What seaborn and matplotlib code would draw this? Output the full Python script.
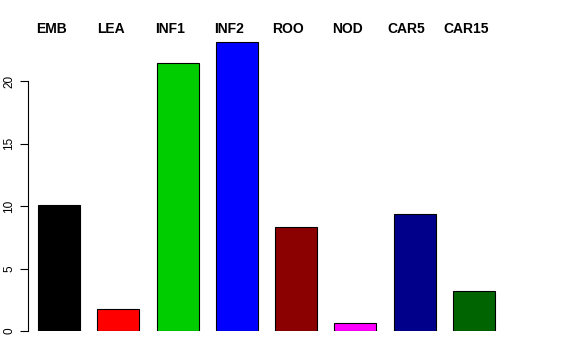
import matplotlib
matplotlib.use("Agg")
import matplotlib.pyplot as plt
import seaborn as sns
import pandas as pd

categories = ["EMB", "LEA", "INF1", "INF2", "ROO", "NOD", "CAR5", "CAR15"]
values = [10.1, 1.77, 21.47, 23.13, 8.3, 0.62, 9.37, 3.24]
colors = ["#000000", "#FF0000", "#00CD00", "#0000FF", "#8B0000", "#FF00FF", "#00008B", "#006400"]
yticks = [0, 5, 10, 15, 20]

sns.set_theme(style="white")
plt.rcParams["font.family"] = ["Liberation Sans", "DejaVu Sans"]

df = pd.DataFrame({"cat": categories, "val": values})

W, H = 576, 360
fig = plt.figure(figsize=(W / 100, H / 100), dpi=100)
left_px, right_px, bottom_px, top_px = 28, 560, 331, 10
ax = fig.add_axes([left_px / W, (H - bottom_px) / H, (right_px - left_px) / W, (bottom_px - top_px) / H])

sns.barplot(data=df, x="cat", y="val", hue="cat", palette=colors, legend=False,
            width=0.71, edgecolor="black", linewidth=0.8, saturation=1, ax=ax)

px_per_x = 59.24
ax.set_xlim(-(59.2 - left_px) / px_per_x, (right_px - 59.2) / px_per_x)
px_per_y = 12.48
ax.set_ylim(0, (bottom_px - top_px) / px_per_y)

for s in ["top", "right", "bottom"]:
    ax.spines[s].set_visible(False)
ax.spines["left"].set_bounds(0, 20)
ax.spines["left"].set_color("black")
ax.spines["left"].set_linewidth(0.8)
ax.set_xticks([])
ax.set_yticks(yticks)
ax.set_yticklabels([str(t) for t in yticks], rotation=90, va="center", fontsize=8.5)
ax.tick_params(axis="y", left=True, length=6, width=0.8, color="black", pad=3, labelcolor="black")
ax.set_xlabel("")
ax.set_ylabel("")

for i, c in enumerate(categories):
    ax.text(i - 0.135, (bottom_px - 29) / px_per_y, c, ha="center", va="center",
            fontsize=10, fontweight="bold", color="black", clip_on=False)

fig.savefig("out.png", dpi=100, facecolor="white")
